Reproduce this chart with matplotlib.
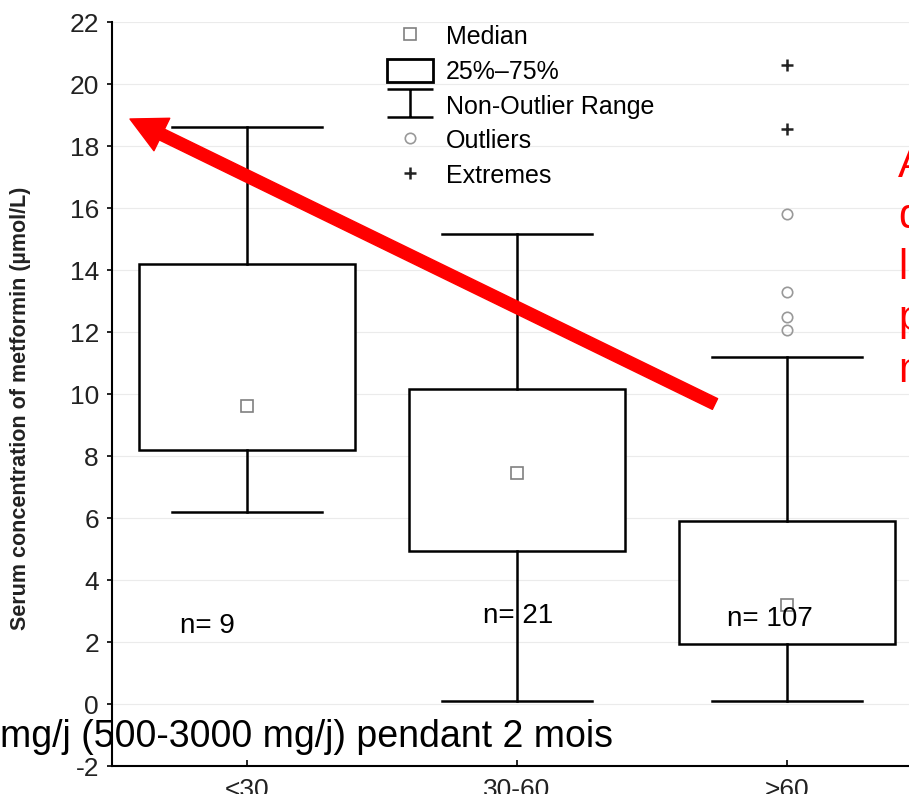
import numpy as np
import matplotlib
matplotlib.use("Agg")
import matplotlib.pyplot as plt
from matplotlib.lines import Line2D
from matplotlib.patches import Patch, FancyArrowPatch, ArrowStyle
from matplotlib.path import Path

plt.rcParams['font.family'] = ['Liberation Sans', 'DejaVu Sans']
plt.rcParams['axes.unicode_minus'] = False

# values
groups = ["<30", "30-60", ">60"]
n_counts = [9, 21, 107]
medians = [9.6, 7.45, 3.2]
q1 = [8.2, 4.95, 1.95]
q3 = [14.2, 10.15, 5.9]
whisk_lo = [6.2, 0.1, 0.1]
whisk_hi = [18.6, 15.15, 11.2]
outliers = [[], [], [15.8, 13.3, 12.5, 12.05]]
extremes = [[], [], [20.6, 18.55]]
y_ticks = list(range(-2, 23, 2))

legend_labels = ["Median", "25%\u201375%", "Non-Outlier Range", "Outliers", "Extremes"]
ylabel = "Serum concentration of metformin (\u00b5mol/L)"
bottom_note = "mg/j (500-3000 mg/j) pendant 2 mois"
red_note = "A\nd\nl\np\nm"

W, H = 909, 794
fig = plt.figure(figsize=(W / 100, H / 100), dpi=100)
ax = fig.add_axes([112 / W, 28 / H, 810 / W, 744 / H])

pos = np.arange(1, len(groups) + 1)
stats = []
for i in range(len(groups)):
    stats.append(dict(med=medians[i], q1=q1[i], q3=q3[i],
                      whislo=whisk_lo[i], whishi=whisk_hi[i],
                      fliers=[], label=groups[i]))

ax.bxp(stats, positions=pos, widths=0.8, capwidths=0.556,
       showfliers=False, patch_artist=True,
       boxprops=dict(facecolor='white', edgecolor='black', linewidth=1.8),
       whiskerprops=dict(color='black', linewidth=1.8),
       capprops=dict(color='black', linewidth=1.8),
       medianprops=dict(linestyle='none'))

# median squares
ax.plot(pos, medians, ls='none', marker='s', ms=8.5, mfc='white',
        mec='#808080', mew=1.2, zorder=5)

# outliers / extremes
for i in range(len(groups)):
    ax.plot([pos[i]] * len(outliers[i]), outliers[i], ls='none', marker='o',
            ms=7.5, mfc='none', mec='#999999', mew=1.2, zorder=5)
    ax.plot([pos[i]] * len(extremes[i]), extremes[i], ls='none', marker='+',
            ms=9, color='#222222', mew=1.8, zorder=5)

# n= labels, nudged like in the original
n_dx = (-0.248, -0.126, -0.222)
n_y = (2.3, 2.6, 2.5)
for i, n in enumerate(n_counts):
    ax.text(pos[i] + n_dx[i], n_y[i], f"n= {n}", fontsize=20, va='baseline', zorder=6)

ax.set_xlim(0.5, 3.5)
ax.set_ylim(-2, 22)
ax.set_yticks(y_ticks)
ax.set_xticks(pos, groups)
ax.spines['top'].set_visible(False)
ax.spines['right'].set_visible(False)
ax.spines['left'].set_linewidth(1.5)
ax.spines['bottom'].set_linewidth(1.5)
ax.tick_params(axis='y', direction='out', length=3.6, width=1.2, pad=5.8,
               labelsize=19, labelcolor='#222222')
ax.tick_params(axis='x', direction='in', length=4.5, width=1.2, pad=8.5,
               labelsize=19, labelcolor='#222222')
ax.yaxis.grid(True, color='#ebebeb', lw=0.8)
ax.set_axisbelow(True)
ax.set_ylabel(ylabel, fontsize=15.5, fontweight='bold', color='#222222')
ax.yaxis.set_label_coords(-0.1, 0.481)

# legend
ibeam = Path([(-0.5, 0.3), (0.5, 0.3), (0, 0.3), (0, -0.3), (-0.5, -0.3), (0.5, -0.3)],
             [Path.MOVETO, Path.LINETO, Path.MOVETO, Path.LINETO, Path.MOVETO, Path.LINETO])
handles = [
    Line2D([], [], ls='none', marker='s', ms=8.5, mfc='white', mec='#808080', mew=1.2),
    Patch(facecolor='white', edgecolor='black', linewidth=2),
    Line2D([], [], ls='none', marker=ibeam, ms=33, mfc='none', mec='black', mew=1.8),
    Line2D([], [], ls='none', marker='o', ms=7.5, mfc='none', mec='#999999', mew=1.2),
    Line2D([], [], ls='none', marker='+', ms=9, color='#222222', mew=1.8),
]
fig.legend(handles, legend_labels, loc='upper left',
           bbox_to_anchor=(387 / W, 1 - 24 / H), frameon=False, fontsize=18,
           handlelength=1.84, handleheight=1.08, handletextpad=0.5,
           labelspacing=0.37, borderpad=0, borderaxespad=0, numpoints=1)

# red overlay arrow
arrow = FancyArrowPatch(posA=(715 / W, 1 - 404 / H), posB=(130 / W, 1 - 119 / H),
                        transform=fig.transFigure,
                        arrowstyle=ArrowStyle.Simple(head_length=25.5, head_width=26,
                                                     tail_width=8.6),
                        mutation_scale=1, color='red', shrinkA=0, shrinkB=0, zorder=10)
fig.add_artist(arrow)

# slide text overlays
fig.text(898 / W, 1 - 146 / H, red_note, color='red', fontsize=30,
         va='top', ha='left', linespacing=1.36, zorder=10)
fig.text(0, 1 - 747 / H, bottom_note, fontsize=27, va='baseline', ha='left', zorder=10)

fig.savefig('out.png', dpi=100)
